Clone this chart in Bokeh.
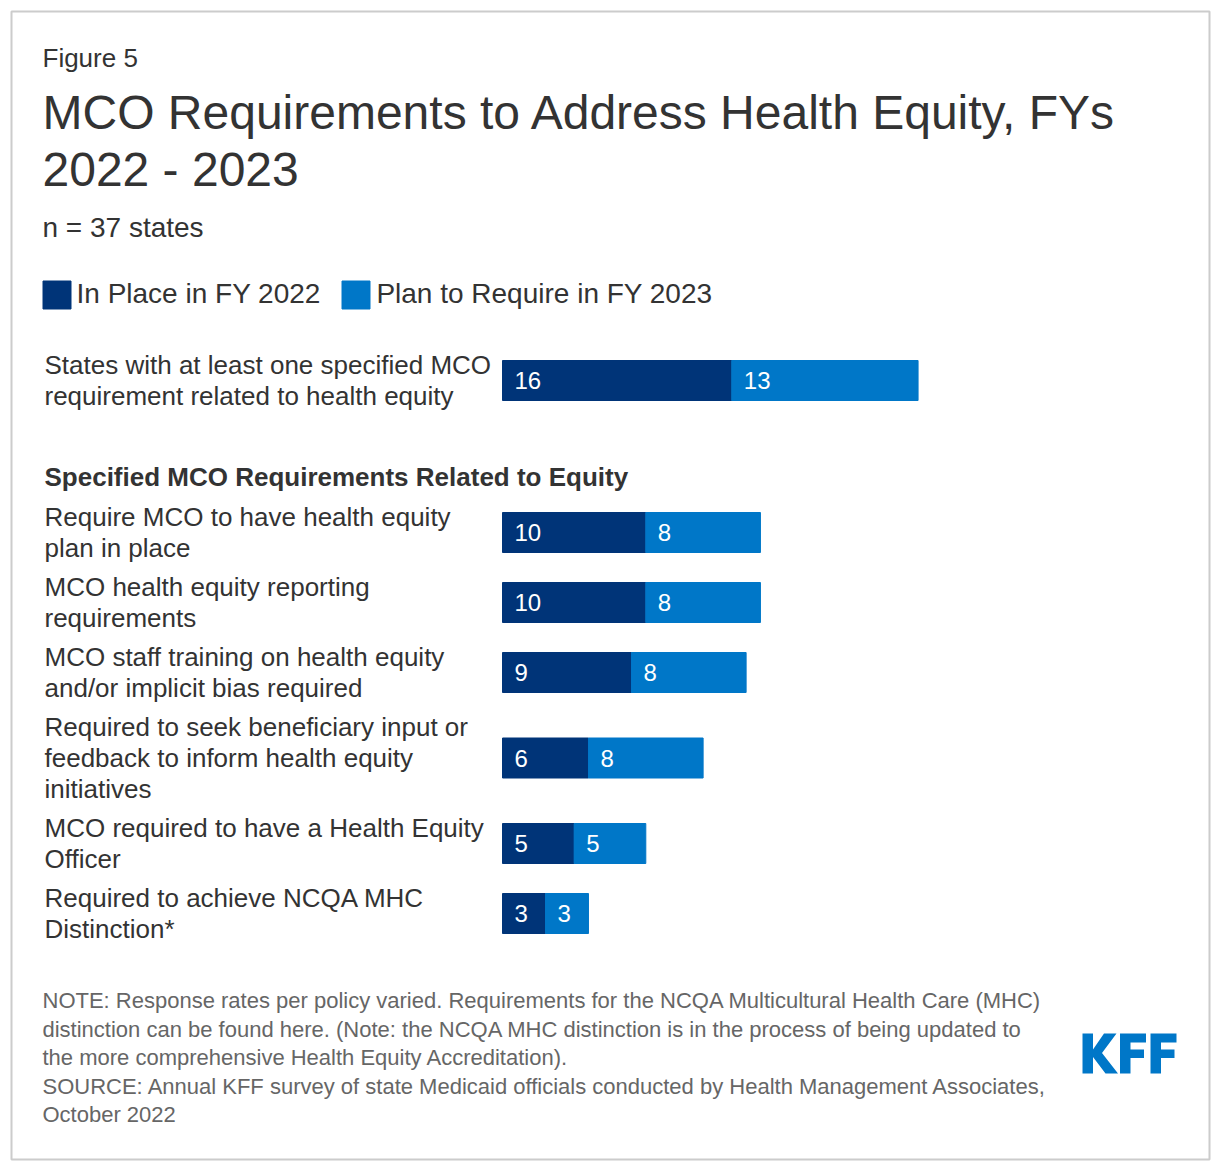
from bokeh.plotting import figure
from bokeh.models import ColumnDataSource, Range1d, Legend, LegendItem
from bokeh.core.properties import value
from bokeh.embed import file_html
from bokeh.resources import INLINE

# ---- data ----
fig_no = "Figure 5"
title_lines = ["MCO Requirements to Address Health Equity, FYs", "2022 - 2023"]
subtitle = "n = 37 states"
series = ["In Place in FY 2022", "Plan to Require in FY 2023"]
section_title = "Specified MCO Requirements Related to Equity"

categories = [
    ["States with at least one specified MCO", "requirement related to health equity"],
    ["Require MCO to have health equity", "plan in place"],
    ["MCO health equity reporting", "requirements"],
    ["MCO staff training on health equity", "and/or implicit bias required"],
    ["Required to seek beneficiary input or", "feedback to inform health equity", "initiatives"],
    ["MCO required to have a Health Equity", "Officer"],
    ["Required to achieve NCQA MHC", "Distinction*"],
]
in_place = [16, 10, 10, 9, 6, 5, 3]
plan = [13, 8, 8, 8, 8, 5, 3]

notes = [
    "NOTE: Response rates per policy varied. Requirements for the NCQA Multicultural Health Care (MHC)",
    "distinction can be found here. (Note: the NCQA MHC distinction is in the process of being updated to",
    "the more comprehensive Health Equity Accreditation).",
    "SOURCE: Annual KFF survey of state Medicaid officials conducted by Health Management Associates,",
    "October 2022",
]

# ---- look ----
DARK = "#003478"
LIGHT = "#0077c8"
TEXT = "#333333"
GREY = "#666666"
FONT_NAME = "Liberation Sans"
FONT = value(FONT_NAME)

W, H = 1212, 1164
PX_PER_UNIT = 14.33
BAR_X0 = 502          # page x where value 0 sits
FRAME_L, FRAME_R, FRAME_T, FRAME_B = 11, 1209, 11, 1159
LINE_H = 31


def row_height(n_lines):
    return 8 + LINE_H * n_lines


# row centres (page px from top)
ys = [345 + row_height(len(categories[0])) / 2]
top = 497
for lines in categories[1:]:
    h = row_height(len(lines))
    ys.append(top + h / 2)
    top += h

x_start = -(BAR_X0 - FRAME_L) / PX_PER_UNIT
x_end = x_start + (FRAME_R - FRAME_L) / PX_PER_UNIT

p = figure(width=W, height=H, output_backend="svg", toolbar_location=None,
           x_range=Range1d(x_start, x_end), y_range=Range1d(FRAME_B, FRAME_T),
           x_axis_type=None, y_axis_type=None,
           min_border_left=FRAME_L, min_border_right=W - FRAME_R,
           min_border_top=FRAME_T, min_border_bottom=H - FRAME_B)
p.extra_x_ranges = {"px": Range1d(FRAME_L, FRAME_R)}
p.grid.visible = False
p.outline_line_color = "#cccccc"
p.outline_line_width = 2
p.background_fill_color = "white"
p.border_fill_color = "white"

src = ColumnDataSource(dict(y=ys, in_place=in_place, plan=plan,
                            total=[a + b for a, b in zip(in_place, plan)]))
r1 = p.hbar(y="y", left=0, right="in_place", height=40, color=DARK, source=src)
r2 = p.hbar(y="y", left="in_place", right="total", height=40, color=LIGHT, source=src)

# value labels inside bars
vsrc = ColumnDataSource(dict(
    x=[0] * len(in_place) + in_place,
    y=ys + ys,
    t=[str(v) for v in in_place] + [str(v) for v in plan],
))
p.text(x="x", y="y", text="t", source=vsrc, x_offset=12, text_color="white",
       text_font=FONT, text_font_size="24px", text_baseline="middle", text_align="left")

# category labels
lx, ly, lt = [], [], []
for yc, lines in zip(ys, categories):
    n = len(lines)
    for i, line in enumerate(lines):
        lx.append(44)
        ly.append(yc + (i - (n - 1) / 2) * LINE_H)
        lt.append(line)
p.text(x=lx, y=ly, text=lt, x_range_name="px", text_color=TEXT, text_font=FONT,
       text_font_size="26px", text_baseline="middle")

p.text(x=[44], y=[476], text=[section_title], x_range_name="px", text_color=TEXT,
       text_font=FONT, text_font_size="26px", text_font_style="bold", text_baseline="middle")

# header texts
p.text(x=[42], y=[57], text=[fig_no], x_range_name="px", text_color=TEXT, text_font=FONT,
       text_font_size="26px", text_baseline="middle")
p.text(x=[42, 42], y=[111.5, 168.5], text=title_lines, x_range_name="px", text_color=TEXT,
       text_font=FONT, text_font_size="48px", text_baseline="middle")
p.text(x=[42], y=[226.5], text=[subtitle], x_range_name="px", text_color=TEXT, text_font=FONT,
       text_font_size="28px", text_baseline="middle")

# footer
p.text(x=[42] * len(notes), y=[1000 + 28.5 * i for i in range(len(notes))], text=notes,
       x_range_name="px", text_color=GREY, text_font=FONT, text_font_size="22px",
       text_baseline="middle")

# KFF logo (block letters, logo box 94 x 40 px)
LOGO_X, LOGO_Y = 1082, 1033
k_shape = [(0, 0), (10.5, 0), (10.5, 16), (21.5, 0), (34, 0), (19.5, 19.5), (35.5, 40),
           (23, 40), (10.5, 23.5), (10.5, 40), (0, 40)]
f_shape = [(0, 0), (26, 0), (26, 9), (10.5, 9), (10.5, 16), (24, 16), (24, 24.5),
           (10.5, 24.5), (10.5, 40), (0, 40)]
logo = [(k_shape, 0), (f_shape, 37.5), (f_shape, 68)]
p.patches(xs=[[LOGO_X + dx + px for px, _ in shp] for shp, dx in logo],
          ys=[[LOGO_Y + py for _, py in shp] for shp, dx in logo],
          x_range_name="px", fill_color=LIGHT, line_color=None)

legend = Legend(items=[LegendItem(label=series[0], renderers=[r1]),
                       LegendItem(label=series[1], renderers=[r2])],
                orientation="horizontal", location=(27.5, 847.5),
                glyph_width=35, glyph_height=35, label_standoff=3, spacing=18,
                padding=0, margin=0, border_line_color=None, background_fill_alpha=0,
                label_text_font=FONT_NAME, label_text_font_size="28px", label_text_color=TEXT)
p.add_layout(legend, "center")

open("out.html", "w").write(file_html(p, INLINE))
